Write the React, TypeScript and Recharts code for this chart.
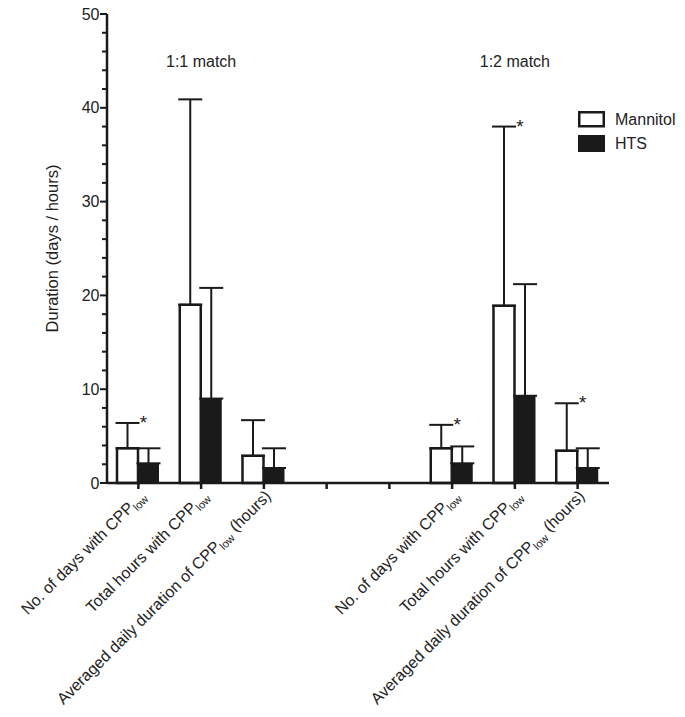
import React from "react";
import { ComposedChart, Bar, XAxis, YAxis, ErrorBar, ReferenceDot, Legend, Label } from "recharts";

// two empty slots split the 1:1 and 1:2 match groups
const categories = ["1:1 days", "1:1 total", "1:1 daily", "gap a", "gap b", "1:2 days", "1:2 total", "1:2 daily"];

const tickLabels: [string, string, string][] = [
  ["No. of days with CPP", "low", ""],
  ["Total hours with CPP", "low", ""],
  ["Averaged daily duration of CPP", "low", " (hours)"],
  ["", "", ""],
  ["", "", ""],
  ["No. of days with CPP", "low", ""],
  ["Total hours with CPP", "low", ""],
  ["Averaged daily duration of CPP", "low", " (hours)"],
];

const mannitol = [3.7, 19.0, 2.9, null, null, 3.7, 18.9, 3.45];
const mannitolSd = [2.7, 21.9, 3.8, null, null, 2.5, 19.1, 5.05];
const hts = [2.1, 9.0, 1.6, null, null, 2.1, 9.3, 1.6];
const htsSd = [1.6, 11.8, 2.1, null, null, 1.8, 11.9, 2.1];

// categories where mannitol vs HTS is marked significant
const significant = ["1:1 days", "1:2 days", "1:2 total", "1:2 daily"];

const headers = [
  { cat: "1:1 total", text: "1:1 match" },
  { cat: "1:2 total", text: "1:2 match" },
];
const HEADER_Y = 44.3;

const yTicks = [0, 2, 4, 6, 8, 10, 12, 14, 16, 18, 20, 22, 24, 26, 28, 30, 32, 34, 36, 38, 40, 42, 44, 46, 48, 50];

const legendOrder = ["mannitol", "hts"];

const ink = "#1a1a1a";
const textColor = "#222";
const font = "'Liberation Sans', Arial, sans-serif";

const data = categories.map((cat, i) => ({
  cat,
  mannitol: mannitol[i],
  hts: hts[i],
  mannitolErr: mannitolSd[i] == null ? null : [0, mannitolSd[i]],
  htsErr: htsSd[i] == null ? null : [0, htsSd[i]],
}));

function XTick(props: any) {
  const { x, y, payload } = props;
  const idx = categories.indexOf(payload.value);
  const [main, sub, rest] = tickLabels[idx] || ["", "", ""];
  return (
    <g>
      <line x1={x} x2={x} y1={y} y2={y + 6} stroke={ink} strokeWidth={2.5} />
      {main && (
        <text
          transform={`translate(${x + 8},${y + 14}) rotate(-45)`}
          textAnchor="end"
          fontSize={16}
          fill={textColor}
          fontFamily={font}
        >
          {main}
          <tspan fontSize={11} dy={4}>{sub}</tspan>
          {rest && <tspan dy={-4}>{rest}</tspan>}
        </text>
      )}
    </g>
  );
}

function YTick(props: any) {
  const { x, y, payload } = props;
  const major = payload.value % 10 === 0;
  return (
    <g>
      <line x1={x - (major ? 7 : 5)} x2={x} y1={y} y2={y} stroke={ink} strokeWidth={2} />
      {major && (
        <text x={x - 7.5} y={y} textAnchor="end" dominantBaseline="central" fontSize={16} fill={textColor} fontFamily={font}>
          {payload.value}
        </text>
      )}
    </g>
  );
}

function LegendBox(props: any) {
  const items = [...(props.payload || [])].sort(
    (a: any, b: any) => legendOrder.indexOf(a.dataKey) - legendOrder.indexOf(b.dataKey)
  );
  return (
    <svg width={115} height={44}>
      {items.map((it: any, i: number) => {
        const top = i * 24;
        const hollow = it.dataKey === "mannitol";
        return (
          <g key={it.value}>
            {hollow ? (
              <rect x={1.25} y={top + 1.25} width={24.5} height={14} fill="#fff" stroke={ink} strokeWidth={2.5} />
            ) : (
              <rect x={0} y={top} width={27} height={17} fill={ink} />
            )}
            <text x={37} y={top + 8.5} dominantBaseline="central" fontSize={16} fill={textColor} fontFamily={font}>
              {it.value}
            </text>
          </g>
        );
      })}
    </svg>
  );
}

export default function App() {
  return (
    <div style={{ width: 685, height: 717, margin: "-8px 0 0 -8px" }}>
      <ComposedChart
        width={685}
        height={717}
        data={data}
        margin={{ top: 14, right: 76, bottom: 34, left: 47 }}
        barGap={0}
      >
        <XAxis
          dataKey="cat"
          interval={0}
          height={200}
          tick={<XTick />}
          tickLine={false}
          tickSize={0}
          tickMargin={0}
          axisLine={{ stroke: ink, strokeWidth: 2.5 }}
        />
        <YAxis
          domain={[0, 50]}
          ticks={yTicks}
          interval={0}
          width={60}
          tick={<YTick />}
          tickLine={false}
          tickSize={0}
          tickMargin={0}
          axisLine={{ stroke: ink, strokeWidth: 2.5 }}
        >
          <Label
            content={(p: any) => {
              const vb = p.viewBox;
              const cx = vb.x + 5;
              const cy = vb.y + vb.height / 2;
              return (
                <text
                  x={cx}
                  y={cy}
                  transform={`rotate(-90, ${cx}, ${cy})`}
                  textAnchor="middle"
                  dominantBaseline="central"
                  fontSize={16.5}
                  fill={textColor}
                  fontFamily={font}
                >
                  Duration (days / hours)
                </text>
              );
            }}
          />
        </YAxis>
        <Legend
          layout="horizontal"
          verticalAlign="middle"
          align="center"
          content={<LegendBox />}
          wrapperStyle={{ position: "absolute", top: 111, left: 578, width: 115 }}
        />
        <Bar dataKey="mannitol" name="Mannitol" fill="#fff" stroke={ink} strokeWidth={2.5} barSize={21} isAnimationActive={false}>
          <ErrorBar dataKey="mannitolErr" direction="y" width={12} strokeWidth={2} stroke={ink} />
        </Bar>
        <Bar dataKey="hts" name="HTS" fill={ink} barSize={21} isAnimationActive={false}>
          <ErrorBar dataKey="htsErr" direction="y" width={12} strokeWidth={2} stroke={ink} />
        </Bar>
        {significant.map((cat) => {
          const i = categories.indexOf(cat);
          return (
            <ReferenceDot
              key={cat}
              x={cat}
              y={(mannitol[i] as number) + (mannitolSd[i] as number)}
              r={0}
              shape={(p: any) => (
                <text x={p.cx + 5} y={p.cy + 6} textAnchor="middle" fontSize={19} fill={textColor} fontFamily={font}>
                  *
                </text>
              )}
            />
          );
        })}
        {headers.map((h) => (
          <ReferenceDot
            key={h.text}
            x={h.cat}
            y={HEADER_Y}
            r={0}
            shape={(p: any) => (
              <text x={p.cx} y={p.cy} textAnchor="middle" fontSize={16} fill={textColor} fontFamily={font}>
                {h.text}
              </text>
            )}
          />
        ))}
      </ComposedChart>
    </div>
  );
}
